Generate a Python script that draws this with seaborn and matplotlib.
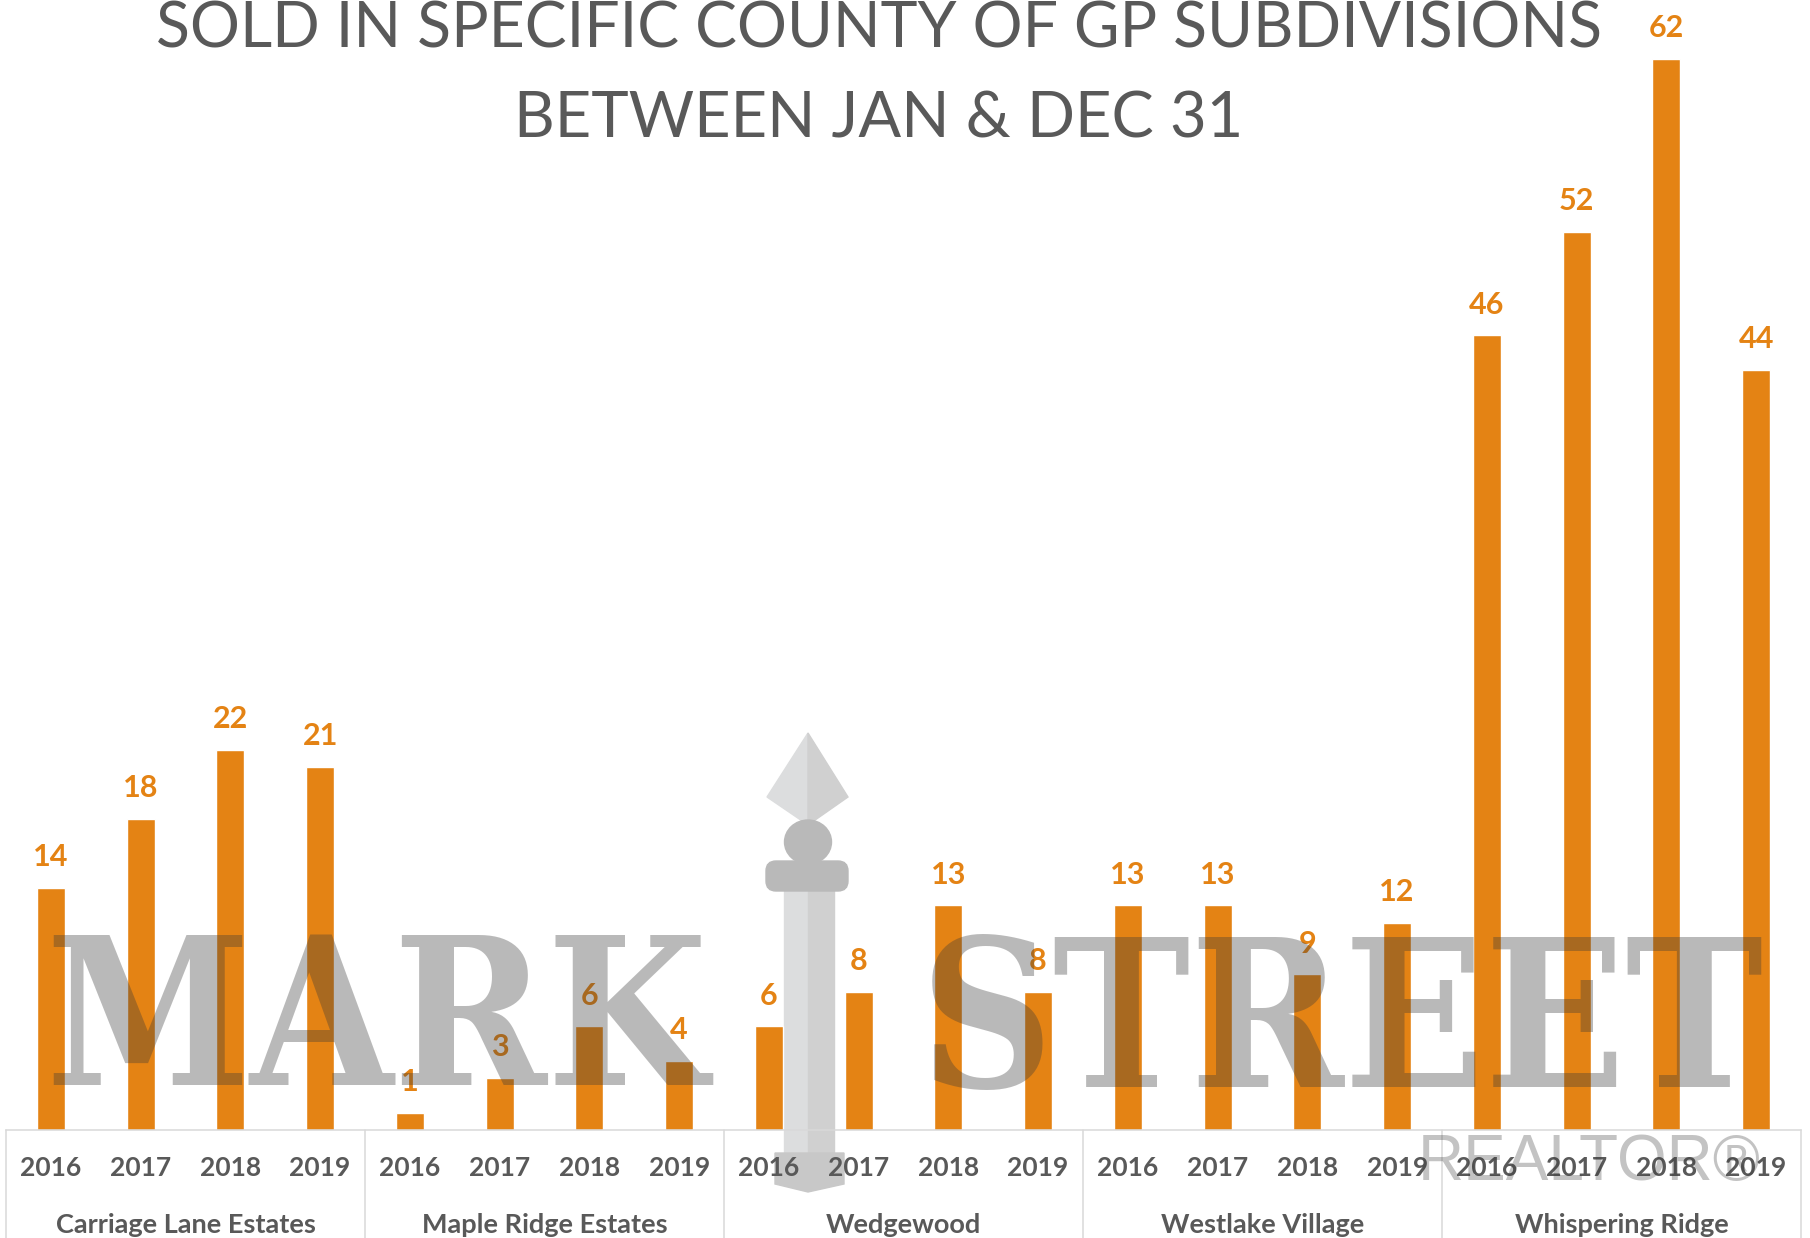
import matplotlib
matplotlib.use('Agg')
import matplotlib.pyplot as plt
import matplotlib.patches as mpatches
import matplotlib.transforms as mtransforms
import pandas as pd
import seaborn as sns

# chart data
subdivisions = ['Carriage Lane Estates', 'Maple Ridge Estates', 'Wedgewood',
                'Westlake Village', 'Whispering Ridge']
years = ['2016', '2017', '2018', '2019']
sold_carriage = [14, 18, 22, 21]
sold_maple = [1, 3, 6, 4]
sold_wedgewood = [6, 8, 13, 8]
sold_westlake = [13, 13, 9, 12]
sold_whispering = [46, 52, 62, 44]
title_lines = ['SOLD IN SPECIFIC COUNTY OF GP SUBDIVISIONS', 'BETWEEN JAN & DEC 31']

ORANGE = '#E48314'
GREY = '#595959'
LINE = '#D9D9D9'
WM = '#393939'

rows = []
for name, vals in zip(subdivisions, [sold_carriage, sold_maple, sold_wedgewood,
                                     sold_westlake, sold_whispering]):
    for yr, v in zip(years, vals):
        rows.append({'subdivision': name, 'year': yr, 'sold': v, 'slot': f'{name} {yr}'})
df = pd.DataFrame(rows)

sns.set_style('white')
plt.rcParams['font.family'] = ['Lato', 'DejaVu Sans']

W, H = 1810, 1238
fig = plt.figure(figsize=(W / 100, H / 100), dpi=100)
# pixel coords of the picture, y pointing down
pix = mtransforms.Affine2D().scale(1 / W, -1 / H).translate(0, 1) + fig.transFigure

ax = fig.add_axes([6 / W, 1 - 1130 / H, 1795 / W, 1130 / H])
ax.patch.set_alpha(0)
sns.barplot(data=df, x='slot', y='sold', color=ORANGE, width=0.31, saturation=1,
            errorbar=None, ax=ax)
ax.set_ylim(0, 65.4)
ax.set_xlim(-0.5, len(df) - 0.5)
ax.bar_label(ax.containers[0], padding=12, color=ORANGE, fontsize=22, fontweight='bold')

ax.set_xticks(range(len(df)))
ax.set_xticklabels(df['year'])
ax.tick_params(axis='x', length=0, pad=19, labelsize=19, labelcolor=GREY)
for t in ax.get_xticklabels():
    t.set_fontweight('bold')
ax.set_yticks([])
ax.set_xlabel('')
ax.set_ylabel('')
for s in ['top', 'right', 'left']:
    ax.spines[s].set_visible(False)
ax.spines['bottom'].set_color(LINE)
ax.spines['bottom'].set_linewidth(1.1)

# group separators and group names
sep = mtransforms.blended_transform_factory(ax.transData, ax.transAxes)
grp = mtransforms.blended_transform_factory(ax.transData, pix)
n = len(years)
for i, name in enumerate(subdivisions):
    ax.plot([i * n - 0.5] * 2, [0, -0.1], transform=sep, color=LINE, lw=1.1, clip_on=False)
    ax.text(i * n + (n - 1) / 2, 1233, name, transform=grp, ha='center', va='baseline',
            fontsize=19.5, fontweight='bold', color=GREY)
ax.plot([len(df) - 0.5] * 2, [0, -0.1], transform=sep, color=LINE, lw=1.1, clip_on=False)

# title
fig.text(879, 47, title_lines[0], transform=pix, ha='center', va='baseline',
         fontsize=45, color=GREY)
fig.text(879, 137, title_lines[1], transform=pix, ha='center', va='baseline',
         fontsize=45.5, color=GREY)

# watermark: lamp post (behind the axes so the year labels stay on top)
post = [
    mpatches.Polygon([(808, 733), (767, 797), (808, 825)], color='#DCDDDE'),
    mpatches.Polygon([(808, 733), (848, 797), (808, 825)], color='#D0D0D0'),
    mpatches.Rectangle((784, 890), 24, 263, color='#DCDDDE'),
    mpatches.Rectangle((808, 890), 26, 263, color='#D0D0D0'),
    mpatches.Polygon([(775, 1153), (844, 1153), (844, 1184), (808, 1192), (775, 1184)],
                     color='#C8C8C8'),
    mpatches.Ellipse((808, 842), 47, 44, color='#B9B9B9'),
    mpatches.FancyBboxPatch((769, 864), 76, 24, boxstyle='round,pad=3,rounding_size=10',
                            color='#B9B9B9'),
]
for p in post:
    p.set_transform(pix)
    p.set_zorder(-1)
    fig.add_artist(p)

# watermark: words
fig.text(377, 1085, 'MARK', transform=pix, ha='center', va='baseline',
         family='DejaVu Serif', fontstretch='condensed', fontweight='bold',
         fontsize=148, color=WM, alpha=0.35)
fig.text(1342, 1087, 'STREET', transform=pix, ha='center', va='baseline',
         family='DejaVu Serif', fontstretch='condensed', fontweight='bold',
         fontsize=148, color=WM, alpha=0.35)
fig.text(1589, 1180, 'REALTOR®', transform=pix, ha='center', va='baseline',
         family='Liberation Sans', fontsize=46, color=WM, alpha=0.3)

fig.savefig('out.png', dpi=100)
